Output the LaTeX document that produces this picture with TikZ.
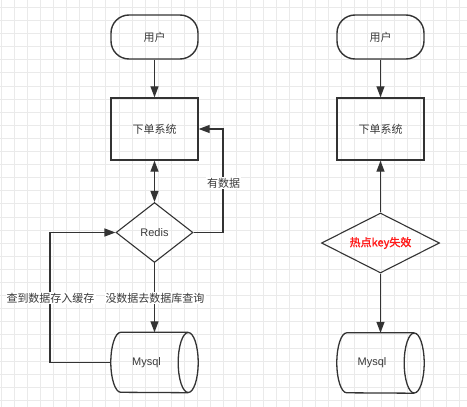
\documentclass[tikz,border=0pt]{standalone}
\usepackage{fontspec}
\setmainfont{Liberation Sans}
\newfontfamily\cjk{Noto Sans CJK SC}
\newfontfamily\cjkb[FakeBold=1.6]{Noto Sans CJK SC}
\usetikzlibrary{shapes.geometric,arrows.meta}
\definecolor{ln}{HTML}{333333}
\definecolor{tx}{HTML}{3A3A3A}
\definecolor{gridc}{HTML}{EAEAEA}
\definecolor{hot}{HTML}{FF1A1A}
\begin{document}
\begin{tikzpicture}[x=1pt,y=-1pt,
  every node/.style={font=\fontsize{11pt}{13pt}\selectfont, text=tx},
  base/.style={draw=ln, line width=1.4pt, minimum width=87pt, inner sep=0pt},
  term/.style={base, rounded corners=18pt, minimum height=44pt, font=\cjk\fontsize{11pt}{13pt}\selectfont},
  proc/.style={base, minimum height=62pt, font=\cjk\fontsize{11pt}{13pt}\selectfont},
  dec/.style={draw=ln, line width=1.1pt, diamond, inner sep=0pt},
  cyl/.style={minimum width=87pt, minimum height=60pt, inner sep=0pt},
  cylline/.style={draw=ln, line width=1.3pt},
  conn/.style={draw=ln, line width=1.3pt, -{Triangle[length=11pt,width=8pt]}},
  dconn/.style={draw=ln, line width=1.3pt, {Triangle[length=11pt,width=8pt]}-{Triangle[length=11pt,width=8pt]}},
  lbl/.style={fill=white, inner sep=1pt, font=\cjk\fontsize{11pt}{13pt}\selectfont}
]
\useasboundingbox (0,0) rectangle (467,407);
\fill[white] (0,0) rectangle (467,407);
% grid
\foreach \i in {0,...,35} {
  \draw[gridc, line width=0.7pt] ({1+13.1*\i},0) -- ({1+13.1*\i},407);
}
\foreach \j in {0,...,30} {
  \draw[gridc, line width=0.7pt] (0,{7.3+13.1*\j}) -- (467,{7.3+13.1*\j});
}

% left flow
\node[term] (u1) at (154.5,37) {用户};
\node[proc] (s1) at (154.5,129) {下单系统};
\node[dec, minimum width=77pt, minimum height=60pt, shape aspect=1.28] (r) at (154.5,232.5) {Redis};
\node[cyl] (m1) at (154.5,362.5) {};
\node (m1t) at ([xshift=-8pt]m1.center) {Mysql};
\draw[cylline] ([xshift=-10pt]m1.north east) -- ([xshift=10pt]m1.north west)
  arc[start angle=90, end angle=270, x radius=10pt, y radius=30pt] -- ([xshift=-10pt]m1.south east);
\draw[cylline] ([xshift=-10pt]m1.east) ellipse[x radius=10pt, y radius=30pt];

\coordinate (c1) at (223,129);
\coordinate (c2) at (50,232.5);
\draw[conn] (u1) -- (s1);
\draw[dconn] (s1) -- (r);
\draw[conn] (r.east) -| (c1) -- (s1.east);
\draw[conn] (r.south) -- (m1.north);
\draw[conn] (m1.west) -| (c2) -- (r.west);
\node[lbl] (l1) at (223.5,183) {有数据};
\node[lbl] (l2) at (155,298) {没数据去数据库查询};
\node[lbl] (l3) at (50.5,298) {查到数据存入缓存};

% right flow
\node[term] (u2) at (380.5,37) {用户};
\node[proc] (s2) at (380.5,129) {下单系统};
\node[dec, minimum width=118pt, minimum height=60pt, shape aspect=1.97, font=\cjkb\fontsize{11pt}{13pt}\selectfont, text=hot] (k) at (380.5,243) {热点key失效};
\node[cyl] (m2) at (380.5,363) {};
\node (m2t) at ([xshift=-8.5pt]m2.center) {Mysql};
\draw[cylline] ([xshift=-10pt]m2.north east) -- ([xshift=10pt]m2.north west)
  arc[start angle=90, end angle=270, x radius=10pt, y radius=30pt] -- ([xshift=-10pt]m2.south east);
\draw[cylline] ([xshift=-10pt]m2.east) ellipse[x radius=10pt, y radius=30pt];

\draw[conn] (u2) -- (s2);
\draw[conn] (k.north) -- (s2.south);
\draw[conn] (k.south) -- (m2.north);
\end{tikzpicture}
\end{document}
